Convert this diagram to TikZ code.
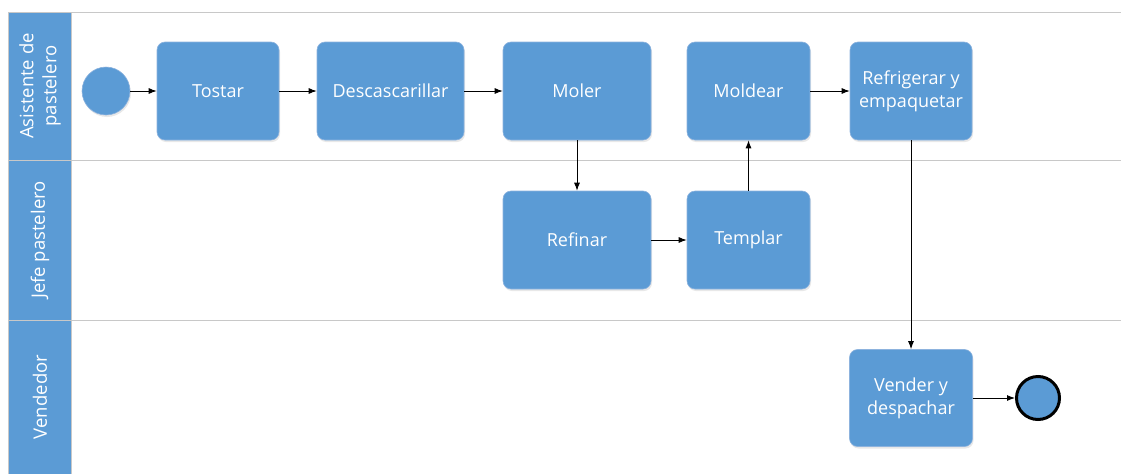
\documentclass[tikz,border=0pt]{standalone}
\usepackage{fontspec}
\setmainfont{Open Sans}
\usetikzlibrary{arrows.meta,shadows}
\definecolor{laneblue}{HTML}{5B9BD5}
\definecolor{boxedge}{HTML}{8DB3DE}
\definecolor{laneline}{HTML}{C8C8C8}
\tikzset{
  task/.style={draw=boxedge, line width=0.6pt, fill=laneblue, rounded corners=8pt,
    text=white, align=center, inner sep=0pt,
    font=\fontsize{18}{23}\selectfont,
    drop shadow={opacity=0.18, shadow xshift=1pt, shadow yshift=-2pt}},
  startev/.style={circle, draw=boxedge, line width=0.6pt, fill=laneblue, minimum size=48pt, inner sep=0pt,
    drop shadow={opacity=0.18, shadow xshift=1pt, shadow yshift=-2pt}},
  endev/.style={circle, draw=black, line width=3pt, fill=laneblue, minimum size=43pt, inner sep=0pt},
  flow/.style={-{Latex[length=8pt,width=6pt]}, line width=0.9pt, black},
  lanetitle/.style={rotate=90, text=white, align=center, font=\fontsize{18.5}{23}\selectfont},
  sep/.style={draw=laneline, line width=1pt}
}
\begin{document}
\begin{tikzpicture}[x=1pt,y=-1pt]
\useasboundingbox (0,0) rectangle (1121,474);
% lane header column
\fill[laneblue] (8,12) rectangle (71,474);
\draw[laneline, line width=0.6pt] (8,12) -- (8,474);
% lane separators
\draw[sep] (8,12) -- (1121,12);
\draw[sep] (8,160) -- (1121,160);
\draw[sep] (8,320) -- (1121,320);
\draw[laneline, line width=0.6pt] (71,12) -- (71,474);
% lane titles
\node[lanetitle] (l1) at (40,86) {Asistente de\\pastelero};
\node[lanetitle] (l2) at (40,240) {Jefe pastelero};
\node[lanetitle] (l3) at (40,397) {Vendedor};
% events and tasks
\node[startev] (start) at (106,91) {};
\node[task, minimum width=122pt, minimum height=98pt] (tostar) at (218,91) {Tostar};
\node[task, minimum width=147pt, minimum height=98pt] (desc) at (390.5,91) {Descascarillar};
\node[task, minimum width=148pt, minimum height=98pt] (moler) at (577,91) {Moler};
\node[task, minimum width=123pt, minimum height=98pt] (moldear) at (748.5,91) {Moldear};
\node[task, minimum width=122pt, minimum height=98pt] (refrig) at (911,91) {Refrigerar y\\empaquetar};
\node[task, minimum width=148pt, minimum height=98pt] (refinar) at (577,240) {Refinar};
\node[task, minimum width=123pt, minimum height=98pt] (templar) at (748.5,240) {Templar};
\node[task, minimum width=123pt, minimum height=97pt] (vender) at (911,398) {Vender y\\despachar};
\node[endev] (fin) at (1038,398) {};
% sequence flows
\draw[flow] (start) -- (tostar);
\draw[flow] (tostar) -- (desc);
\draw[flow] (desc) -- (moler);
\draw[flow] (moler) -- (refinar);
\draw[flow] (refinar) -- (templar);
\draw[flow] (templar) -- (moldear);
\draw[flow] (moldear) -- (refrig);
\draw[flow] (refrig) -- (vender);
\draw[flow] (vender) -- (fin);
\end{tikzpicture}
\end{document}
